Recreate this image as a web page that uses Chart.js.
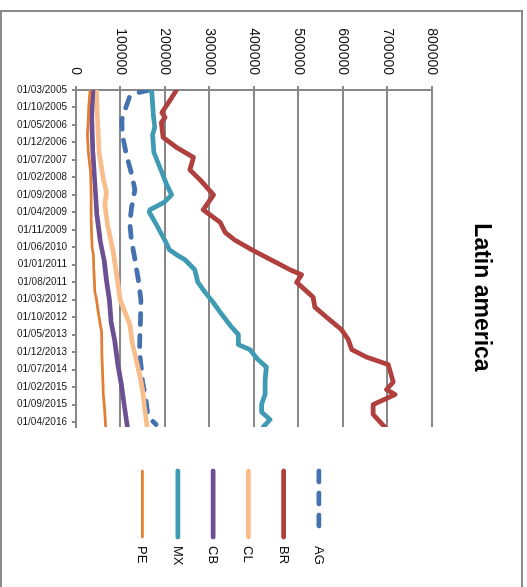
<!DOCTYPE html>
<html>
<head>
<meta charset="utf-8">
<script src="https://cdn.jsdelivr.net/npm/chart.js@4.4.1/dist/chart.umd.min.js"></script>
<style>
  html, body { margin: 0; padding: 0; background: #fff; width: 527px; height: 587px; overflow: hidden; }
  /* the chart is laid out landscape and turned a quarter turn clockwise */
  #stage { position: absolute; left: 0; top: 0; width: 587px; height: 527px;
           transform-origin: 0 0; transform: translateX(527px) rotate(90deg); }
  #frame { position: absolute; left: 0; top: 10px; width: 519px; height: 600px;
           border: 2px solid #8a8a8a; border-bottom: none; pointer-events: none; }
</style>
</head>
<body>
<div id="stage"><canvas id="chart" width="587" height="527"></canvas></div>
<div id="frame"></div>
<script>
// Month index 0 = 01/03/2005, one step per month
const tickLabels = ['01/03/2005', '01/10/2005', '01/05/2006', '01/12/2006', '01/07/2007',
  '01/02/2008', '01/09/2008', '01/04/2009', '01/11/2009', '01/06/2010', '01/01/2011',
  '01/08/2011', '01/03/2012', '01/10/2012', '01/05/2013', '01/12/2013', '01/07/2014',
  '01/02/2015', '01/09/2015', '01/04/2016'];

// [month index, value]
const AG = [[0,166000],[1,141000],[3,120000],[8,110000],[12,103000],[18,104500],[25,112000],
  [33,124000],[40,132500],[47,125000],[53,121000],[60,124500],[68,132500],[76,140000],
  [84,146000],[90,145000],[97,144000],[104,142500],[110,146000],[117,150000],[124,157000],
  [129,160500],[132,168500],[134,180000]];
const BR = [[0,226000],[4,212000],[9,193000],[11,200000],[13,192000],[19,196000],[23,226000],
  [27,264000],[32,256000],[36,279000],[42,309000],[48,286000],[53,324000],[57,335000],
  [60,356000],[64,395000],[68,438000],[72,481000],[74,507000],[77,496000],[83,533000],
  [87,537000],[91,563000],[96,597000],[100,612000],[104,620000],[107,653000],[110,702000],
  [117,713000],[120,698000],[122,717000],[126,668000],[130,668000],[135,694000]];
const CL = [[0,46000],[11,48000],[25,52000],[35,60700],[41,68500],[46,65000],[54,70800],
  [64,83000],[76,93000],[84,99000],[89,110000],[94,121000],[101,126000],[106,132600],
  [115,144000],[121,150500],[127,154000],[135,160000]];
const CB = [[0,38000],[11,35000],[25,38000],[38,42700],[50,47000],[60,54000],[68,63000],
  [76,68500],[84,75000],[93,79000],[101,87600],[110,94000],[118,102000],[127,109000],
  [135,115700]];
const MX = [[0,170000],[10,174000],[15,177000],[18,172000],[25,175000],[33,193000],[38,204000],
  [42,215000],[45,198000],[48,166000],[49,165000],[54,181000],[60,199000],[64,210000],
  [66,226000],[68,245000],[72,267000],[77,274000],[81,290000],[85,308000],[89,324000],
  [95,350000],[98,365000],[102,365000],[104,391000],[108,409000],[111,428000],[116,425000],
  [122,425000],[126,417000],[129,417000],[132,436000],[135,421000]];
const PE = [[0,31500],[6,29000],[11,27700],[18,25500],[25,27700],[33,33000],[42,34000],
  [51,34000],[58,35300],[63,36000],[66,39000],[72,40000],[81,42700],[83,45000],[90,51000],
  [97,57500],[106,58400],[114,60000],[122,61400],[128,64500],[135,66700]];

const FONT = 'Liberation Sans';
const GRID = '#888888';

function series(label, points, color, width, order, dash) {
  return {
    label, order,
    data: points.map(([x, y]) => ({ x, y })),
    borderColor: color, backgroundColor: color,
    borderWidth: width, borderDash: dash || [],
    borderCapStyle: 'round', borderJoinStyle: 'round',
    pointRadius: 0, tension: 0, fill: false
  };
}

// Key on the right: one stroke per series, in series order
const seriesKey = {
  id: 'seriesKey',
  afterDraw(chart) {
    const ctx = chart.ctx;
    chart.data.datasets.forEach((ds, i) => {
      const y = 208 + 35.3 * i;
      ctx.save();
      ctx.strokeStyle = ds.borderColor;
      ctx.lineWidth = ds.borderWidth;
      ctx.lineCap = 'round';
      ctx.setLineDash(ds.borderDash);
      ctx.beginPath();
      ctx.moveTo(471, y);
      ctx.lineTo(537, y);
      ctx.stroke();
      ctx.setLineDash([]);
      ctx.fillStyle = '#111';
      ctx.font = '13px "' + FONT + '"';
      ctx.textBaseline = 'middle';
      ctx.textAlign = 'left';
      ctx.fillText(ds.label, 546, y + 0.5);
      ctx.restore();
    });
  }
};

new Chart(document.getElementById('chart'), {
  type: 'line',
  data: {
    datasets: [
      series('AG', AG, '#4471b0', 4.75, 6, [11, 11]),
      series('BR', BR, '#b0403d', 4.75, 5),
      series('CL', CL, '#f9bd8c', 4.75, 4),
      series('CB', CB, '#6b5093', 4.75, 3),
      series('MX', MX, '#3f9ab3', 4.75, 2),
      series('PE', PE, '#e27d34', 2.75, 1)
    ]
  },
  options: {
    responsive: false,
    animation: false,
    devicePixelRatio: 1,
    layout: { padding: { left: 8, right: 0, top: 0, bottom: 0 } },
    plugins: {
      legend: { display: false },
      tooltip: { enabled: false },
      title: {
        display: true,
        text: 'Latin america',
        color: '#000',
        font: { family: FONT, size: 23, weight: 'bold', lineHeight: 1.2 },
        padding: { top: 31.5, bottom: 36 }
      }
    },
    scales: {
      x: {
        type: 'linear', position: 'bottom', min: 0, max: 135,
        afterFit(scale) { scale.height = 76; },
        ticks: {
          stepSize: 7, includeBounds: false, autoSkip: false,
          minRotation: 90, maxRotation: 90, padding: 5,
          color: '#1a1a1a', font: { family: FONT, size: 10 },
          callback: v => tickLabels[v / 7]
        },
        grid: { drawOnChartArea: false, drawTicks: true, tickLength: 4, color: GRID, lineWidth: 2 },
        border: { display: true, color: GRID, width: 2 }
      },
      y: {
        position: 'left', min: 0, max: 800000,
        afterFit(scale) { scale.width = 82; },
        ticks: {
          stepSize: 100000, padding: 11, color: '#111',
          font: { family: FONT, size: 14 },
          callback: v => String(v)
        },
        grid: { color: GRID, lineWidth: 2, tickLength: 4 },
        border: { display: true, color: GRID, width: 2 }
      },
      keySpace: {
        type: 'linear', position: 'right', display: true,
        afterFit(scale) { scale.width = 160; },
        ticks: { display: false },
        grid: { display: false },
        border: { display: false }
      }
    }
  },
  plugins: [seriesKey]
});
</script>
</body>
</html>
